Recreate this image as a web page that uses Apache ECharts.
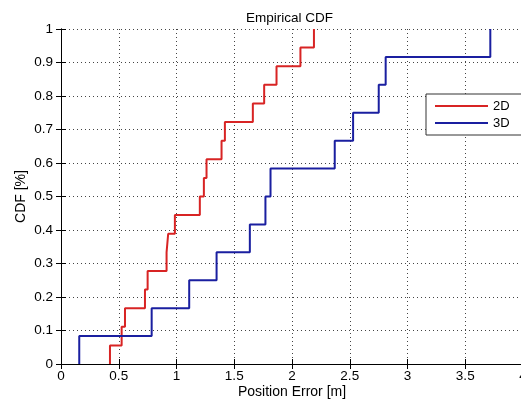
<!DOCTYPE html>
<html>
<head>
<meta charset="utf-8">
<script src="https://cdn.jsdelivr.net/npm/echarts@6/dist/echarts.min.js"></script>
<style>html,body{margin:0;padding:0;background:#fff;}#c{width:521px;height:400px;}</style>
</head>
<body>
<div id="c"></div>
<script>
// Sorted position errors [m]
var errors2D = [0.424, 0.525, 0.554, 0.727, 0.750, 0.914, 0.928, 0.986, 1.202, 1.237, 1.260, 1.390, 1.419, 1.661, 1.759, 1.866, 2.073, 2.190];
var errors3D = [0.158, 0.785, 1.110, 1.347, 1.635, 1.770, 1.814, 2.370, 2.529, 2.751, 2.811, 3.717];
var seriesNames = ['2D', '3D'];
var xTickLabels = ['0', '0.5', '1', '1.5', '2', '2.5', '3', '3.5', '4'];
var yTickLabels = ['0', '0.1', '0.2', '0.3', '0.4', '0.5', '0.6', '0.7', '0.8', '0.9', '1'];

function ecdf(errs) {
  var n = errs.length;
  var pts = [[errs[0], 0]];
  for (var i = 0; i < n; i++) pts.push([errs[i], (i + 1) / n]);
  return pts;
}

var font = 'Liberation Sans, Arial, sans-serif';
var gridDots = { type: [1, 3], color: '#444', width: 1 };

var chart = echarts.init(document.getElementById('c'), null, { renderer: 'canvas' });
chart.setOption({
  animation: false,
  backgroundColor: '#fff',
  title: {
    text: 'Empirical CDF',
    left: 241, top: 6,
    textStyle: { fontFamily: font, fontSize: 13.5, fontWeight: 'normal', color: '#000' }
  },
  legend: {
    data: seriesNames,
    orient: 'vertical',
    left: 426, top: 94,
    padding: [5, 24, 5, 9],
    itemGap: 3,
    itemWidth: 53, itemHeight: 2,
    icon: 'rect',
    borderColor: '#333', borderWidth: 1,
    backgroundColor: '#fff',
    textStyle: { fontFamily: font, fontSize: 13, color: '#000', lineHeight: 14 }
  },
  grid: { left: 61, top: 29, width: 462, height: 335, containLabel: false, outerBoundsMode: 'none' },
  xAxis: [{
    type: 'value', min: 0, max: 4, interval: 0.5,
    name: 'Position Error [m]', nameLocation: 'middle', nameGap: 21, nameMoveOverlap: false,
    nameTextStyle: { fontFamily: font, fontSize: 14, color: '#000' },
    axisLine: { show: true, onZero: false, lineStyle: { color: '#000', width: 1 } },
    axisTick: { show: true, inside: true, length: 5, lineStyle: { color: '#000' } },
    axisLabel: { fontFamily: font, fontSize: 13.5, color: '#000', margin: 5,
      formatter: function (v) { return xTickLabels[Math.round(v * 2)]; } },
    splitLine: { show: true, lineStyle: gridDots }
  }, {
    type: 'value', min: 0, max: 4, interval: 0.5, position: 'top',
    axisLine: { show: true, lineStyle: { color: '#000', width: 1 } },
    axisTick: { show: true, inside: true, length: 5, lineStyle: { color: '#000' } },
    axisLabel: { show: false }, splitLine: { show: false }
  }],
  yAxis: [{
    type: 'value', min: 0, max: 1, interval: 0.1,
    name: 'CDF [%]', nameLocation: 'middle', nameGap: 33, nameMoveOverlap: false,
    nameTextStyle: { fontFamily: font, fontSize: 14, color: '#000' },
    axisLine: { show: true, lineStyle: { color: '#000', width: 1 } },
    axisTick: { show: true, inside: true, length: 5, lineStyle: { color: '#000' } },
    axisLabel: { fontFamily: font, fontSize: 13.5, color: '#000', margin: 8,
      formatter: function (v) { return yTickLabels[Math.round(v * 10)]; } },
    splitLine: { show: true, lineStyle: gridDots }
  }, {
    type: 'value', min: 0, max: 1, interval: 0.1, position: 'right',
    axisLine: { show: true, lineStyle: { color: '#000', width: 1 } },
    axisTick: { show: true, inside: true, length: 5, lineStyle: { color: '#000' } },
    axisLabel: { show: false }, splitLine: { show: false }
  }],
  series: [{
    name: seriesNames[0], type: 'line', step: 'end', symbol: 'none',
    data: ecdf(errors2D),
    lineStyle: { color: '#d82424', width: 2 }, itemStyle: { color: '#d82424' }
  }, {
    name: seriesNames[1], type: 'line', step: 'end', symbol: 'none',
    data: ecdf(errors3D),
    lineStyle: { color: '#1a1fa0', width: 2 }, itemStyle: { color: '#1a1fa0' }
  }]
});
</script>
</body>
</html>
